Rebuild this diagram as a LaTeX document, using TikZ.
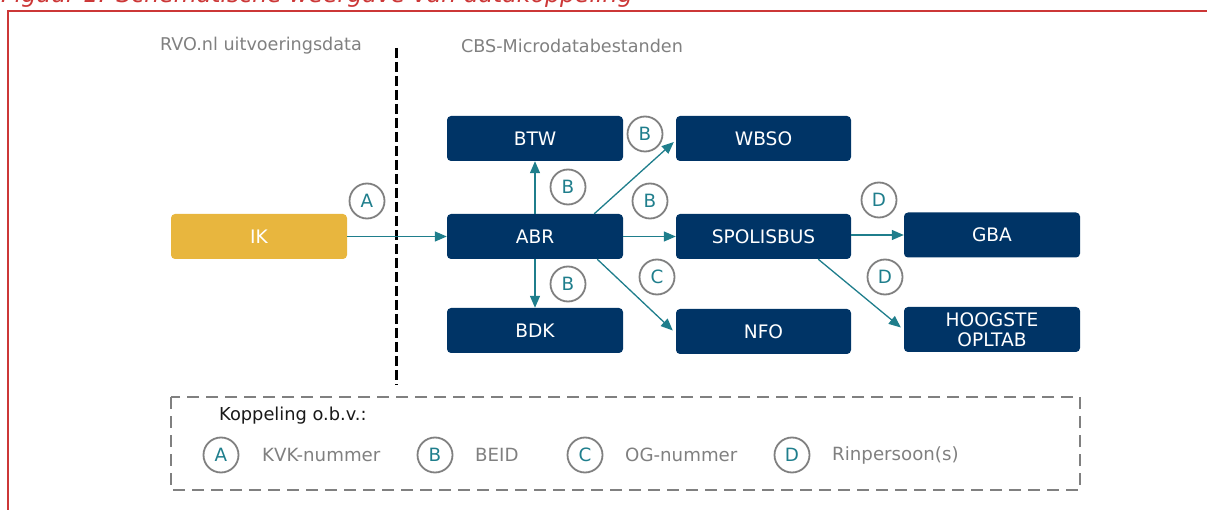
\documentclass[tikz,border=0pt]{standalone}
\usepackage{fontspec}
\setmainfont{DejaVu Sans}
\usetikzlibrary{arrows.meta}
\definecolor{navy}{RGB}{0,52,102}
\definecolor{ikyellow}{RGB}{232,182,62}
\definecolor{teal2}{RGB}{31,126,140}
\definecolor{circgray}{RGB}{128,128,128}
\definecolor{txtgray}{RGB}{128,128,128}
\definecolor{framered}{RGB}{204,55,55}
\tikzset{
  dbox/.style={rounded corners=4pt, fill=navy, text=white, minimum width=176pt,
    minimum height=45pt, inner sep=0pt, align=center,
    font=\fontsize{18.6}{19.5}\selectfont},
  ikbox/.style={dbox, fill=ikyellow},
  lbl/.style={circle, draw=circgray, line width=1.8pt, minimum size=35pt, inner sep=0pt,
    text=teal2, font=\fontsize{18.3}{20}\selectfont},
  conn/.style={draw=teal2, line width=1.3pt, -{Triangle[length=12pt,width=10pt]}},
  hdr/.style={text=txtgray, inner sep=0pt, font=\fontsize{17.6}{20}\selectfont},
  legtxt/.style={text=txtgray, inner sep=0pt, anchor=west, font=\fontsize{18.2}{20}\selectfont},
}
\begin{document}
\begin{tikzpicture}[x=1pt,y=-1pt]
\useasboundingbox (0,0) rectangle (1207,510);
% title (cut off) and frame
\node[anchor=base west, inner sep=0pt, text=framered, font=\fontsize{23.6}{26}\selectfont\itshape] (title) at (1,3) {Figuur 1: Schematische weergave van datakoppeling};
\draw[framered, line width=2pt] (8,512) -- (8,11) -- (1209,11);
% headers
\node[hdr] (h1) at (261,46) {RVO.nl uitvoeringsdata};
\node[hdr] (h2) at (572,46) {CBS-Microdatabestanden};
% dashed separator
\coordinate (s1) at (396,48);
\coordinate (s2) at (396,385);
\draw[black, line width=3pt, dash pattern=on 10pt off 4pt] (s1) -- (s2);
% boxes
\node[ikbox] (IK) at (259,236.5) {IK};
\node[dbox] (ABR) at (535,236.5) {ABR};
\node[dbox] (BTW) at (535,138.5) {BTW};
\node[dbox] (BDK) at (535,330.5) {BDK};
\node[dbox, minimum width=175pt] (WBSO) at (763.5,138.5) {WBSO};
\node[dbox, minimum width=175pt] (SPOL) at (763.5,236.5) {SPOLISBUS};
\node[dbox, minimum width=175pt] (NFO) at (763.5,331.5) {NFO};
\node[dbox] (GBA) at (992,235) {GBA};
\node[dbox] (HOOG) at (992,329.5) {HOOGSTE\\OPLTAB};
% connectors
\draw[conn] (IK.east) -- (ABR.west);
\draw[conn] (ABR.north) -- (BTW.south);
\draw[conn] (ABR.south) -- (BDK.north);
\draw[conn] ([xshift=-29pt]ABR.north east) -- ([xshift=-2pt,yshift=-3.5pt]WBSO.west);
\draw[conn] (ABR.east) -- (SPOL.west);
\draw[conn] ([xshift=-26pt]ABR.south east) -- ([xshift=-3pt,yshift=1pt]NFO.west);
\draw[conn] ([yshift=1.5pt]SPOL.east) -- (GBA.west);
\draw[conn] ([xshift=-33pt]SPOL.south east) -- ([xshift=-3pt,yshift=2pt]HOOG.west);
% labels
\node[lbl] (lA) at (367,201) {A};
\node[lbl] (lB1) at (568,187) {B};
\node[lbl] (lB2) at (645,134) {B};
\node[lbl] (lB3) at (650,201) {B};
\node[lbl] (lB4) at (568,284) {B};
\node[lbl] (lC) at (657,277) {C};
\node[lbl] (lD1) at (879,200) {D};
\node[lbl] (lD2) at (885,277) {D};
% legend
\draw[circgray, line width=1.5pt, dash pattern=on 12pt off 7pt] (171,397) rectangle (1080,490);
\node[anchor=west, inner sep=0pt, text=black!90, font=\fontsize{17.8}{20}\selectfont] (kop) at (219,416) {Koppeling o.b.v.:};
\node[lbl] (gA) at (221,455) {A};
\node[legtxt] (tA) at (262,455) {KVK-nummer};
\node[lbl] (gB) at (435,455) {B};
\node[legtxt] (tB) at (475,455) {BEID};
\node[lbl] (gC) at (585,455) {C};
\node[legtxt] (tC) at (625,455) {OG-nummer};
\node[lbl] (gD) at (792,455) {D};
\node[legtxt] (tD) at (832,455) {Rinpersoon(s)};
\end{tikzpicture}
\end{document}
